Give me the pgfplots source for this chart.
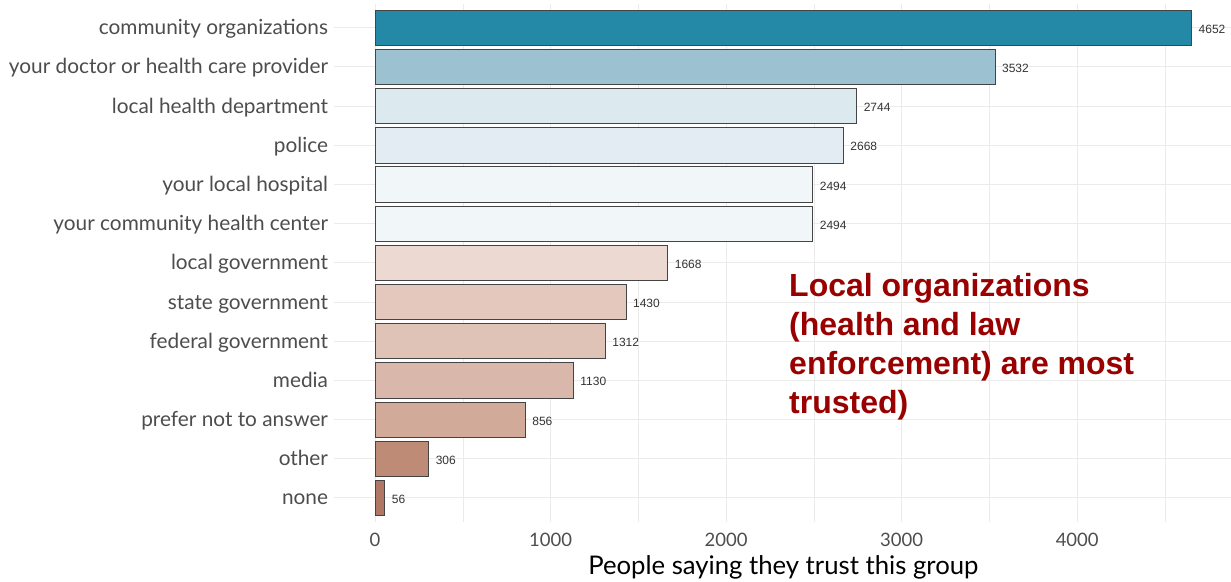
\documentclass[border=0pt]{standalone}
\usepackage{pgfplots}
\pgfplotsset{compat=1.18}
\usepackage{fontspec}
\setmainfont{Lato}
\newfontfamily\arialfont{Liberation Sans}
\definecolor{c13}{HTML}{2489A7}
\definecolor{c12}{HTML}{9CC2D1}
\definecolor{c11}{HTML}{DCE9EF}
\definecolor{c10}{HTML}{E3ECF2}
\definecolor{c9}{HTML}{F1F6F9}
\definecolor{c8}{HTML}{F1F6F9}
\definecolor{c7}{HTML}{ECD9D2}
\definecolor{c6}{HTML}{E4C8BE}
\definecolor{c5}{HTML}{DFC3B7}
\definecolor{c4}{HTML}{D9B8AB}
\definecolor{c3}{HTML}{D2AA9A}
\definecolor{c2}{HTML}{BE8B77}
\definecolor{c1}{HTML}{B07764}
\definecolor{gridc}{HTML}{EBEBEB}
\definecolor{labc}{HTML}{4D4D4D}
\definecolor{annc}{HTML}{990000}
\definecolor{edgec}{HTML}{444444}
\begin{document}
\begin{tikzpicture}
\useasboundingbox (0pt,0pt) rectangle (1231pt,581pt);
\begin{axis}[
  at={(334.2pt,59.5pt)}, anchor=south west,
  scale only axis, width=898.3pt, height=517.2pt,
  xmin=-232.6, xmax=4884.6, ymin=0.4, ymax=13.6,
  axis line style={draw=none},
  major tick length=0pt, minor tick length=0pt,
  xtick={0,1000,2000,3000,4000},
  minor xtick={500,1500,2500,3500,4500},
  ytick={1,...,13},
  yticklabels={none, other, prefer not to answer, media, federal government, state government, local government, your community health center, your local hospital, police, local health department, your doctor or health care provider, community organizations},
  xmajorgrids, xminorgrids, ymajorgrids,
  major grid style={draw=gridc, line width=1pt},
  minor grid style={draw=gridc, line width=0.6pt},
  scaled x ticks=false,
  /pgf/number format/assume math mode=true,
  /pgf/number format/1000 sep={},
  xticklabel={\pgfmathprintnumber[fixed,precision=0,1000 sep={}]{\tick}},
  xticklabel style={anchor=base, inner sep=0pt, yshift=-25pt, font=\fontsize{18.5}{22}\selectfont, text=labc},
  yticklabel style={anchor=base east, inner sep=0pt, xshift=-6pt, yshift=-7pt, font=\fontsize{20.8}{24}\selectfont, text=labc},
  xlabel={People saying they trust this group},
  xlabel style={at={(axis description cs:0.5,0)}, anchor=base, inner sep=0pt, yshift=-52.5pt, font=\fontsize{25.7}{30}\selectfont, text=black},
  xbar, bar width=0.9, bar shift=0pt,
  nodes near coords,
  nodes near coords={\pgfmathprintnumber[fixed,precision=0,1000 sep={}]{\pgfplotspointmeta}},
  every node near coord/.append style={anchor=base west, inner sep=0pt, xshift=6.6pt, yshift=-5.5pt, font=\arialfont\fontsize{12}{14}\selectfont, text=black!80},
  every axis plot/.append style={draw=edgec, line width=0.9pt},
]
\addplot[fill=c13] coordinates {(4652,13)};
\addplot[fill=c12] coordinates {(3532,12)};
\addplot[fill=c11] coordinates {(2744,11)};
\addplot[fill=c10] coordinates {(2668,10)};
\addplot[fill=c9] coordinates {(2494,9)};
\addplot[fill=c8] coordinates {(2494,8)};
\addplot[fill=c7] coordinates {(1668,7)};
\addplot[fill=c6] coordinates {(1430,6)};
\addplot[fill=c5] coordinates {(1312,5)};
\addplot[fill=c4] coordinates {(1130,4)};
\addplot[fill=c3] coordinates {(856,3)};
\addplot[fill=c2] coordinates {(306,2)};
\addplot[fill=c1] coordinates {(56,1)};
\end{axis}
\begin{scope}[every node/.style={anchor=base west, inner sep=0pt, text=annc, font=\arialfont\bfseries\fontsize{32}{38}\selectfont}]
\node at (789pt,284.3pt) {Local organizations};
\node at (789pt,245pt) {(health and law};
\node at (789pt,206pt) {enforcement) are most};
\node at (789pt,167pt) {trusted)};
\end{scope}
\end{tikzpicture}
\end{document}
